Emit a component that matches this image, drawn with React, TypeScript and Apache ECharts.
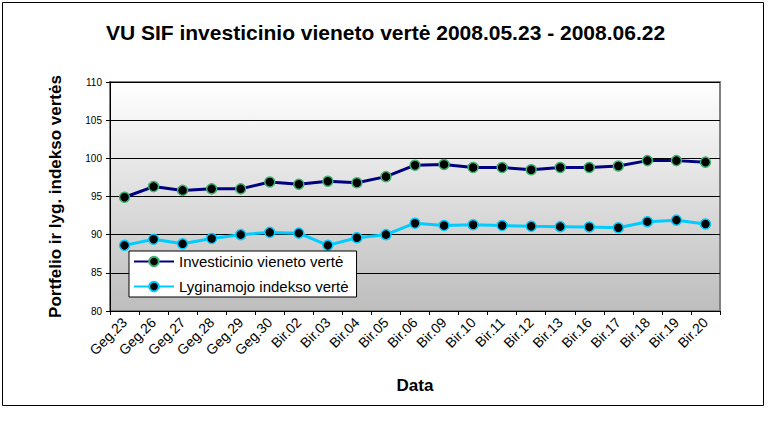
import React, { useEffect, useRef } from "react";
import * as echarts from "echarts";

const categories = [
  "Geg.23", "Geg.26", "Geg.27", "Geg.28", "Geg.29", "Geg.30",
  "Bir.02", "Bir.03", "Bir.04", "Bir.05", "Bir.06", "Bir.09", "Bir.10",
  "Bir.11", "Bir.12", "Bir.13", "Bir.16", "Bir.17", "Bir.18", "Bir.19", "Bir.20",
];
const investicinio = [
  94.9, 96.3, 95.8, 96.0, 96.0, 96.9, 96.6, 97.0, 96.8, 97.6, 99.1,
  99.2, 98.8, 98.8, 98.5, 98.8, 98.8, 99.0, 99.7, 99.7, 99.5,
];
const lyginamojo = [
  88.6, 89.4, 88.8, 89.5, 90.0, 90.3, 90.2, 88.6, 89.6, 90.0, 91.5,
  91.2, 91.3, 91.2, 91.1, 91.05, 91.0, 90.9, 91.7, 91.9, 91.4,
];
const seriesNames = ["Investicinio vieneto vertė", "Lyginamojo indekso vertė"];

const FONT = "Liberation Sans, Arial, sans-serif";

export default function App() {
  const ref = useRef<HTMLDivElement>(null);
  useEffect(() => {
    document.body.style.margin = "0";
    const chart = echarts.init(ref.current!, null, { renderer: "svg" });
    chart.setOption({
      animation: false,
      backgroundColor: "#ffffff",
      title: {
        text: "VU SIF investicinio vieneto vertė 2008.05.23 - 2008.06.22",
        left: "center",
        top: 17,
        textStyle: { fontFamily: FONT, fontSize: 21, fontWeight: "bold", color: "#000" },
      },
      graphic: [
        {
          type: "rect",
          shape: { x: 2.5, y: 2.5, width: 761, height: 403 },
          style: { fill: "none", stroke: "#000", lineWidth: 1 },
          z: -1,
        },
      ],
      grid: {
        left: 110,
        right: 51,
        top: 82,
        bottom: 111,
        show: true,
        borderColor: "#808080",
        borderWidth: 2,
        backgroundColor: {
          type: "linear",
          x: 0, y: 0, x2: 0, y2: 1,
          colorStops: [
            { offset: 0, color: "#ffffff" },
            { offset: 1, color: "#bdbdbd" },
          ],
        },
      },
      legend: {
        orient: "vertical",
        left: 129,
        top: 251,
        backgroundColor: "#ffffff",
        borderColor: "#000",
        borderWidth: 1,
        borderRadius: 0,
        padding: [3, 8, 3, 4],
        itemWidth: 40,
        itemHeight: 12,
        itemGap: 10,
        textStyle: { fontFamily: FONT, fontSize: 15, color: "#000" },
        data: seriesNames,
      },
      xAxis: {
        type: "category",
        data: categories,
        name: "Data",
        nameLocation: "middle",
        nameGap: 66,
        nameTextStyle: { fontFamily: FONT, fontSize: 17, fontWeight: "bold", color: "#000" },
        axisLine: { lineStyle: { color: "#000", width: 1 } },
        axisTick: { show: true, length: 4, lineStyle: { color: "#000" } },
        axisLabel: { rotate: 45, fontFamily: FONT, fontSize: 14, color: "#000", margin: 9, interval: 0 },
      },
      yAxis: {
        type: "value",
        min: 80,
        max: 110,
        interval: 5,
        name: "Portfelio ir lyg. indekso vertės",
        nameLocation: "middle",
        nameGap: 46,
        nameTextStyle: { fontFamily: FONT, fontSize: 17, fontWeight: "bold", color: "#000" },
        axisLine: { show: true, lineStyle: { color: "#000", width: 1 } },
        axisTick: { show: true, length: 4, lineStyle: { color: "#000" } },
        axisLabel: { fontFamily: FONT, fontSize: 10, color: "#000", margin: 8 },
        splitLine: { show: true, lineStyle: { color: "#000", width: 1 } },
      },
      series: [
        {
          name: seriesNames[0],
          type: "line",
          data: investicinio,
          symbol: "circle",
          symbolSize: 10,
          lineStyle: { color: "#000080", width: 3 },
          itemStyle: { color: "#000000", borderColor: "#3cb371", borderWidth: 1.5 },
          z: 3,
        },
        {
          name: seriesNames[1],
          type: "line",
          data: lyginamojo,
          symbol: "circle",
          symbolSize: 10,
          lineStyle: { color: "#00ccff", width: 3 },
          itemStyle: { color: "#000000", borderColor: "#00ccff", borderWidth: 1.5 },
          z: 3,
        },
      ],
    });
    return () => chart.dispose();
  }, []);
  return <div ref={ref} style={{ width: 771, height: 422 }} />;
}
